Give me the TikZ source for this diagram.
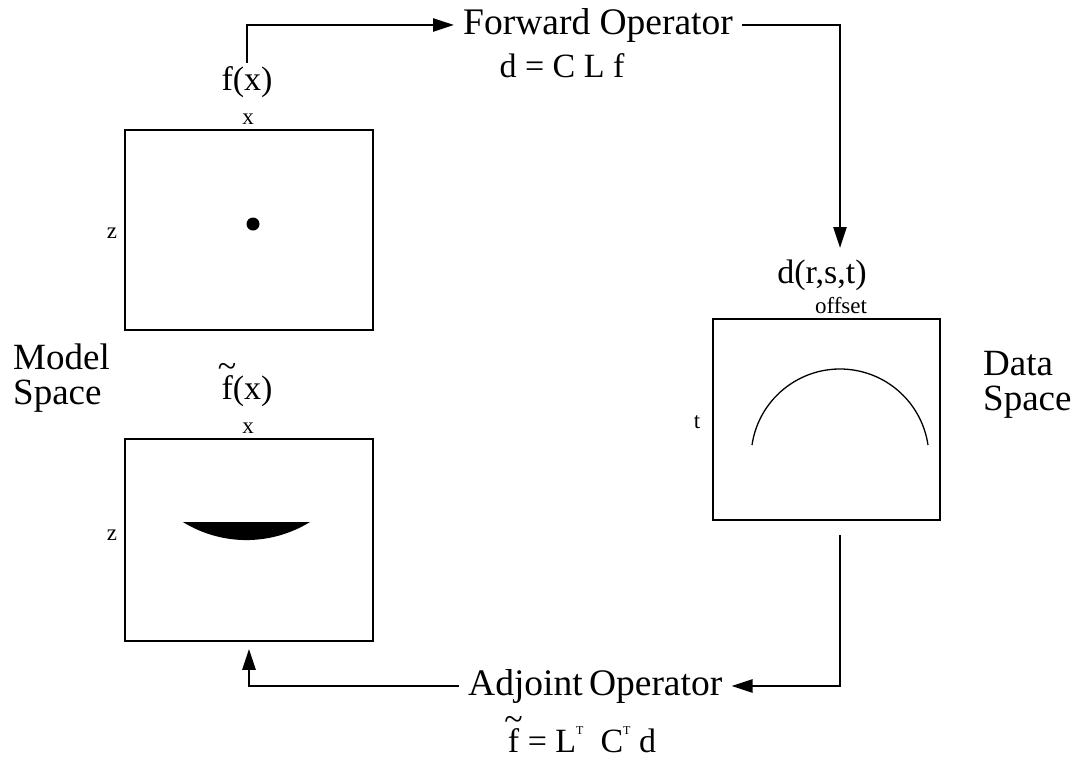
\documentclass[tikz,border=0pt]{standalone}
\usepackage{fontspec}
\setmainfont{Liberation Serif}
\usetikzlibrary{arrows.meta}
\newcommand\supT{\raisebox{0.52em}{\fontsize{12}{12}\selectfont T}}
\newcommand\tildef{\ooalign{f\cr\hidewidth\raisebox{0.62em}{\~{}}\hidewidth\cr}}
\tikzset{
  panel/.style={draw,line width=1.5pt,inner sep=0pt},
  biglab/.style={font=\fontsize{37}{35}\selectfont,inner sep=0pt},
  oplab/.style={font=\fontsize{37.5}{35}\selectfont,inner xsep=9pt,inner ysep=0pt},
  midlab/.style={font=\fontsize{34}{34}\selectfont,inner sep=3pt},
  axlab/.style={font=\fontsize{23}{23}\selectfont,inner sep=0pt},
  flow/.style={line width=2.5pt,line join=miter,-{Triangle[length=21pt,width=13pt]}},
}

\begin{document}
\begin{tikzpicture}[x=1pt,y=-1pt]
\useasboundingbox (0,0) rectangle (1077,761);

% ---- model space: f(x) and its adjoint image ----
\node[panel,minimum width=248pt,minimum height=200pt] (fbox) at (249,230) {};
\node[panel,minimum width=248pt,minimum height=202pt] (gbox) at (249,540) {};
\node[midlab,anchor=base] (fx) at (247,90) {f(x)};
\node[axlab,anchor=base] (fxax) at (248,124) {x};
\node[axlab,anchor=base] (fzax) at (112,238) {z};
\node[midlab,anchor=base] (gx) at (247,399) {\tildef(x)};
\node[axlab,anchor=base] (gxax) at (248,433) {x};
\node[axlab,anchor=base] (gzax) at (112,540) {z};
\fill (253,224) circle[radius=6.5];
\fill (310,522) arc[start angle=58.3,end angle=121.7,radius=121] -- cycle;
\node[biglab,anchor=west,align=left] (model) at (13,378) {Model\\Space};

% ---- data space: d(r,s,t) ----
\node[panel,minimum width=227pt,minimum height=201pt] (dbox) at (826.5,419.5) {};
\node[midlab,anchor=base] (dlab) at (822,283) {d(r,s,t)};
\node[axlab,anchor=base] (dxax) at (841,313) {offset};
\node[axlab,anchor=base] (dtax) at (697,428) {t};
\draw[line width=1.3pt] (752,445) arc[start angle=188.37,end angle=351.63,radius=88.95];
\node[biglab,anchor=west,align=left] (data) at (983,385) {Data\\Space};

% ---- operators ----
\node[oplab,anchor=base west] (fwd) at (454,34) {Forward Operator};
\node[midlab,anchor=base] (fwdeq) at (562,77) {d = C L f};
\node[oplab,anchor=base west] (adj) at (459,695) {Adjoint\,Operator};
\node[midlab,anchor=base] (adjeq) at (582,752) {\tildef{} = L\supT\ \ C\supT\ d};

% ---- connectors ----
\coordinate (din) at (840,248);
\coordinate (dout) at (840,535);
\draw[flow] (fx.north) |- (fwd.west);
\draw[flow] (fwd.east) -| (din);
\draw[flow] (dout) |- (adj.east);
\draw[flow,shorten >=7pt] (adj.west) -| (gbox.south);
\end{tikzpicture}
\end{document}
